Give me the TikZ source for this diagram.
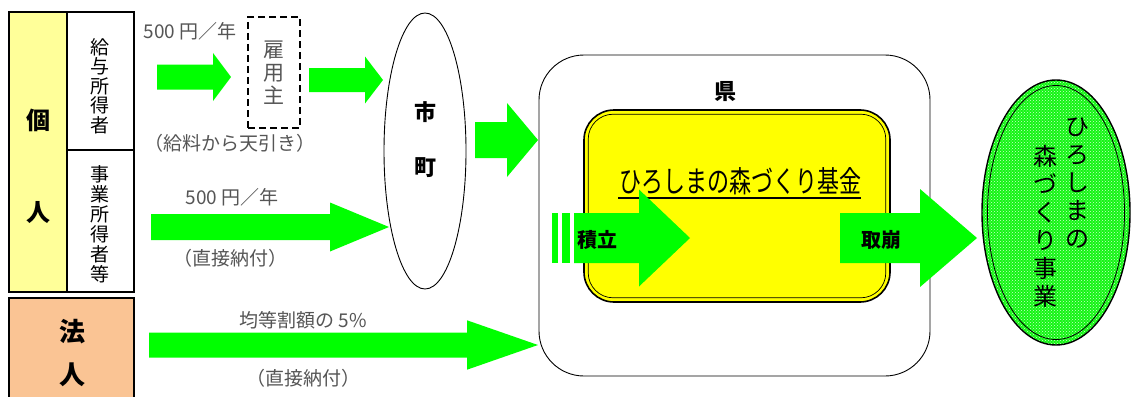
\documentclass[tikz,border=0pt]{standalone}
\usepackage{fontspec}
\setmainfont{Noto Sans CJK JP}
\usepackage{tikz}
\usetikzlibrary{shapes.geometric,patterns}

\definecolor{arrowgreen}{RGB}{0,255,0}
\definecolor{kojin}{RGB}{255,255,153}
\definecolor{hojin}{RGB}{250,196,148}
\definecolor{kikin}{RGB}{255,255,0}
\definecolor{jigyo}{RGB}{20,245,20}
\definecolor{txtgray}{RGB}{85,85,85}

% block arrow: x1, x2, y, shaft half, head half, head length
\newcommand{\garrow}[6]{%
  \fill[arrowgreen] (#1,#3-#4) -- (#2-#6,#3-#4) -- (#2-#6,#3-#5) -- (#2,#3)
    -- (#2-#6,#3+#5) -- (#2-#6,#3+#4) -- (#1,#3+#4) -- cycle;}

\tikzset{
  gtext/.style={text=txtgray, font=\fontsize{19}{20}\selectfont, inner sep=0pt},
  btext/.style={font=\fontsize{#1}{#1}\selectfont\bfseries, inner sep=0pt},
  vtext/.style={align=center, inner sep=0pt},
}

\begin{document}
\begin{tikzpicture}[x=1pt, y=-1pt]
        \useasboundingbox (0,0) rectangle (1131,396);

        % 個人
        \fill[kojin] (9,12) rectangle (67,292);
        \fill[hojin] (9,298) rectangle (134,400);
        \draw[line width=1.4pt] (9,12) rectangle (134,292);
        \draw[line width=1.4pt] (67,12) -- (67,292);
        \draw[line width=1.4pt] (67,150) -- (134,150);
        \draw[line width=1.4pt] (9,298) rectangle (134,400);
        \node[btext=24] (ko) at (38,120) {個};
        \node[btext=24] (jin) at (38,213) {人};
        \node[btext=26] (ho) at (72,332) {法};
        \node[btext=26] (hjin) at (72,375) {人};
        \node[vtext, font=\fontsize{19}{19.5}\selectfont] (kyuyo) at (100,86)
          {給\\与\\所\\得\\者};
        \node[vtext, font=\fontsize{19}{20}\selectfont] (jigyosha) at (100,224)
          {事\\業\\所\\得\\者\\等};

        % 矢印
        \garrow{157}{231}{77}{12.5}{24}{18}
        \garrow{309}{383}{80}{12}{23.5}{18}
        \garrow{475}{538}{140}{18}{37}{31}
        \garrow{151}{389}{227}{13}{24.5}{59}
        \garrow{149}{538}{345}{12.5}{24.7}{71}

        % ラベル
        \node[gtext] (nen1) at (190,31) {500 円／年};
        \node[gtext] (tenbiki) at (230,143) {（給料から天引き）};
        \node[gtext] (nen2) at (232,197) {500 円／年};
        \node[gtext] (choku1) at (230,258) {（直接納付）};
        \node[gtext] (kinto) at (303,320) {均等割額の 5\%};
        \node[gtext] (choku2) at (303,378) {（直接納付）};

        % 雇用主
        \node[draw, dash pattern=on 7pt off 4pt, line width=1.3pt, minimum width=52pt,
          minimum height=111pt, inner sep=0pt] (koyo) at (274,72.5) {};
        \node[vtext, text=txtgray, font=\fontsize{21}{23}\selectfont] at (koyo)
          {雇\\用\\主};

        % 市町
        \node[draw, ellipse, line width=0.9pt, minimum width=82pt, minimum height=276pt,
          inner sep=0pt] (shicho) at (425,151) {};
        \node[btext=22] (shi) at (425,112) {市};
        \node[btext=22] (cho) at (425,168) {町};

        % 県
        \node[draw, line width=0.9pt, rounded corners=45pt, minimum width=391pt,
          minimum height=321pt, inner sep=0pt] (ken) at (734.5,215.5) {};
        \node[btext=22] (kenlbl) at (725,92) {県};

        % 基金
        \node[draw, fill=kikin, line width=1.6pt, rounded corners=30pt, minimum width=306pt,
          minimum height=192pt, inner sep=0pt] (kikin) at (737,206) {};
        \draw[line width=0.7pt, rounded corners=25pt] ([shift={(5pt,-5pt)}]kikin.north west)
          rectangle ([shift={(-5pt,5pt)}]kikin.south east);
        \node[inner sep=0pt] (kikinlbl) at (740,181)
          {\scalebox{1}[1.35]{\fontsize{22}{22}\selectfont ひろしまの森づくり基金}};
        \draw[line width=1.2pt] (618,198) -- (861,198);

        % 積立・取崩
        \fill[arrowgreen] (552,213) rectangle (558,263);
        \fill[arrowgreen] (562,213) rectangle (570,263);
        \garrow{574}{690}{238}{25}{48.5}{51}
        \garrow{840}{977}{238}{25}{49}{57}
        \node[btext=20] (tsumitate) at (597,240) {積立};
        \node[btext=20] (torikuzushi) at (881,240) {取崩};

        % 事業
        \node[draw, ellipse, line width=1.4pt, preaction={fill=jigyo},
          pattern=crosshatch dots, pattern color=white!80!jigyo,
          minimum width=148pt, minimum height=265pt, inner sep=0pt] (jigyo) at (1056,212.5) {};
        \node[draw, ellipse, line width=0.8pt, minimum width=137pt, minimum height=254pt,
          inner sep=0pt] at (jigyo) {};
        \node[vtext, font=\fontsize{24}{28}\selectfont] (jg1) at (1077,183)
          {ひ\\ろ\\し\\ま\\の};
        \node[vtext, font=\fontsize{24}{28}\selectfont] (jg2) at (1045,226)
          {森\\づ\\く\\り\\事\\業};
\end{tikzpicture}
\end{document}
